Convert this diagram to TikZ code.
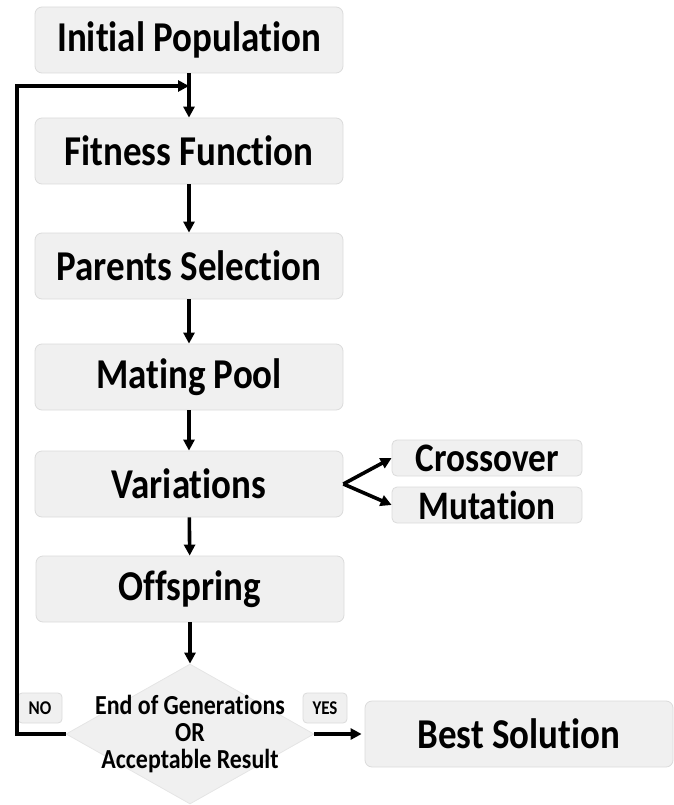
\documentclass[tikz,border=0pt]{standalone}
\usepackage{fontspec}
\setmainfont{Carlito}[FakeStretch=0.87, Ligatures=NoCommon]
\usetikzlibrary{arrows.meta, shapes.geometric}

\begin{document}
\begin{tikzpicture}[x=1pt, y=-1pt,
    stage/.style={draw=black!14, fill=black!6, rounded corners=7pt, line width=0.8pt,
      minimum width=308pt, minimum height=66pt, inner sep=0pt,
      font=\fontsize{42.5}{45}\selectfont\bfseries},
    branch/.style={stage, minimum width=190pt, minimum height=36pt, rounded corners=5pt,
      font=\fontsize{40.5}{43}\selectfont\bfseries},
    decision/.style={diamond, draw=black!10, fill=black!6, line width=0.8pt,
      minimum width=248pt, minimum height=140pt, inner sep=0pt},
    answer/.style={stage, minimum width=44pt, minimum height=30pt, rounded corners=4pt,
      font=\fontsize{19.5}{22}\selectfont\bfseries},
    flow/.style={-{Triangle[length=11pt, width=11pt]}, line width=3.6pt}]
  \useasboundingbox (0,0) rectangle (673,805);

  % main column
  \node[stage] (init) at (189,40) {Initial Population};
  \node[stage] (fit) at (189,151) {Fitness Function};
  \node[stage] (sel) at (189,266) {Parents Selection};
  \node[stage] (pool) at (189,377) {Mating Pool};
  \node[stage] (var) at (189,484) {Variations};
  \node[stage] (off) at (190,589) {Offspring};
  \node[decision] (check) at (190,734) {};
  \node[align=center, font=\fontsize{27.5}{27}\selectfont\bfseries] (checktext) at (check)
    {End of Generations\\OR\\Acceptable Result};
  \node[stage] (best) at (519,734) {Best Solution};

  % variation kinds
  \node[branch] (cross) at (487,458) {Crossover};
  \node[branch] (mut) at (487,505) {Mutation};

  % answers
  \node[answer] (no) at (40,708) {NO};
  \node[answer] (yes) at (325,708) {YES};

  \coordinate (loopcorner) at (17,86);
  \coordinate (join) at (init.south |- loopcorner);

  \draw[flow] (init) -- (fit);
  \draw[flow] (fit) -- (sel);
  \draw[flow] (sel) -- (pool);
  \draw[flow] (pool) -- (var);
  \draw[flow] (var) -- (off);
  \draw[flow] (off) -- (check);
  \draw[flow] (var.east) -- (cross.west);
  \draw[flow] (var.east) -- (mut.west);
  \draw[flow] (check.east) -- ([xshift=-3pt]best.west);
  \draw[flow] (check.west) -| (loopcorner) -- (join);
\end{tikzpicture}
\end{document}
